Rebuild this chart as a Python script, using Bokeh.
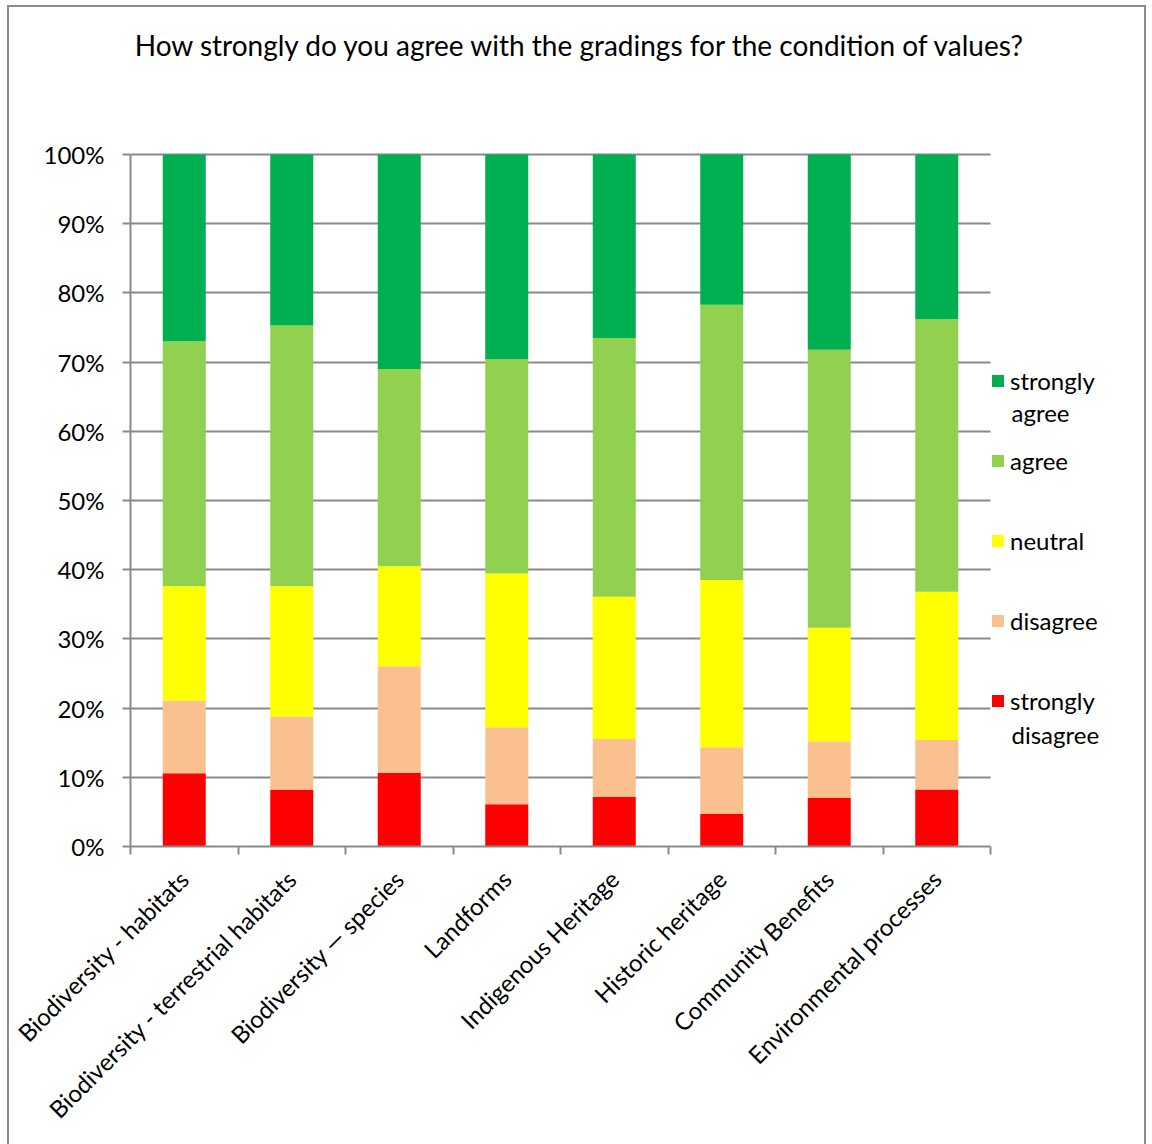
import numpy as np
from bokeh.plotting import figure
from bokeh.models import (ColumnDataSource, FixedTicker, NumeralTickFormatter,
                          Legend, LegendItem, Range1d, Label, Grid)
from bokeh.embed import file_html
from bokeh.resources import INLINE

categories = ["Biodiversity - habitats", "Biodiversity - terrestrial habitats",
              "Biodiversity \u2014 species", "Landforms", "Indigenous Heritage",
              "Historic heritage", "Community Benefits", "Environmental processes"]

strongly_disagree = [10.6, 8.15, 10.65, 6.1, 7.15, 4.7, 7.0, 8.25]
disagree = [10.5, 10.65, 15.4, 11.15, 8.4, 9.65, 8.2, 7.15]
neutral = [16.5, 18.8, 14.45, 22.2, 20.55, 24.15, 16.4, 21.4]
agree = [35.4, 37.7, 28.5, 30.95, 37.4, 39.8, 40.2, 39.4]
strongly_agree = [27.0, 24.7, 31.0, 29.6, 26.5, 21.7, 28.2, 23.8]

series = ["strongly disagree", "disagree", "neutral", "agree", "strongly agree"]
colors = ["#FF0000", "#FAC090", "#FFFF00", "#92D050", "#00B050"]
y_ticks = [0, 0.1, 0.2, 0.3, 0.4, 0.5, 0.6, 0.7, 0.8, 0.9, 1.0]
title_text = "How strongly do you agree with the gradings for the condition of values?"

FONT = "Lato"
GREY = "#8a8a8a"
FS = "24px"

# layout (pixels)
W, H = 1139, 1146
LEFT, BOTTOM = 121, 307
PLOT_W, PLOT_H = 860.0, 692.0          # width / height of the 0..8, 0..1 area
frame_w, frame_h = W - LEFT, H - BOTTOM
n = len(categories)
x_end = n * frame_w / PLOT_W
y_end = frame_h / PLOT_H
px_x = n / PLOT_W        # data units per pixel
px_y = 1.0 / PLOT_H

xpos = np.arange(n) + 0.5
data = dict(x=xpos)
for name, vals in zip(series, [strongly_disagree, disagree, neutral, agree, strongly_agree]):
    data[name] = np.array(vals) / 100.0
src = ColumnDataSource(data)

p = figure(width=W, height=H, x_range=Range1d(0, x_end), y_range=Range1d(0, y_end),
           output_backend="svg", toolbar_location=None,
           min_border_left=LEFT, min_border_right=0, min_border_top=0,
           min_border_bottom=BOTTOM)
p.styles = {"margin-left": "7px", "margin-top": "5px", "border": "2px solid #8c8c8c"}
p.outline_line_color = None
p.background_fill_color = "white"
p.border_fill_color = "white"

renderers = p.vbar_stack(series, x="x", width=0.4, source=src,
                         fill_color=colors, line_color=None)

# y axis
ya = p.yaxis[0]
ya.bounds = (0, 1)
ya.ticker = FixedTicker(ticks=y_ticks)
ya.formatter = NumeralTickFormatter(format="0%")
ya.major_tick_out = 8
ya.major_tick_in = 0
ya.minor_tick_out = 0
ya.minor_tick_in = 0
ya.axis_line_color = GREY
ya.axis_line_width = 2
ya.major_tick_line_color = GREY
ya.major_tick_line_width = 2
ya.major_label_text_font = FONT
ya.major_label_text_font_size = FS
ya.major_label_text_color = "black"
ya.major_label_standoff = 18

# x axis
xa = p.xaxis[0]
xa.bounds = (0, n)
xa.ticker = FixedTicker(ticks=list(xpos), minor_ticks=list(range(n + 1)))
xa.major_label_overrides = {float(v): c for v, c in zip(xpos, categories)}
xa.major_label_orientation = np.pi / 4
xa.major_tick_out = 0
xa.major_tick_in = 0
xa.minor_tick_out = 8
xa.minor_tick_in = 0
xa.minor_tick_line_color = GREY
xa.minor_tick_line_width = 2
xa.axis_line_color = GREY
xa.axis_line_width = 2
xa.major_label_text_font = FONT
xa.major_label_text_font_size = FS
xa.major_label_text_color = "black"
xa.major_label_standoff = 20

p.xgrid.grid_line_color = None
if "cross_bounds" in Grid.properties():
    p.ygrid.ticker = FixedTicker(ticks=y_ticks)
    p.ygrid.cross_bounds = (0, n)
    p.ygrid.grid_line_color = GREY
    p.ygrid.grid_line_width = 2
else:
    p.ygrid.grid_line_color = None
    p.segment(x0=0, x1=n, y0=y_ticks[1:], y1=y_ticks[1:], line_color=GREY,
              line_width=2, level="underlay")

# title
p.add_layout(Label(x=(580.5 - 130) * px_x, y=(846 - 44) * px_y, text=title_text,
                   text_font=FONT, text_font_size="28px", text_align="center",
                   text_baseline="alphabetic", text_color="black"))

# legend: first lines in the legend, second lines as labels
first_lines = ["strongly", "disagree", "neutral", "agree", "strongly"]
second_lines = ["disagree", None, None, None, "agree"]
items = [LegendItem(label=lab, renderers=[r]) for lab, r in zip(first_lines, renderers)]
items.reverse()
legend = Legend(items=items, location=(860, 130), glyph_width=15, glyph_height=15,
                label_standoff=5, label_height=32, spacing=48, padding=0, margin=0,
                label_text_font=FONT, label_text_font_size=FS,
                label_text_color="black", border_line_color=None,
                background_fill_alpha=0)
p.add_layout(legend)

text_x = n + (1011 - 990) * px_x
second_y = {"agree": (846 - 412) * px_y, "disagree": (846 - 734) * px_y}
for txt in [s for s in second_lines if s]:
    p.add_layout(Label(x=text_x, y=second_y[txt], text=txt, text_font=FONT,
                       text_font_size=FS, text_baseline="middle", text_align="left",
                       text_color="black"))

open("out.html", "w").write(file_html(p, INLINE))
